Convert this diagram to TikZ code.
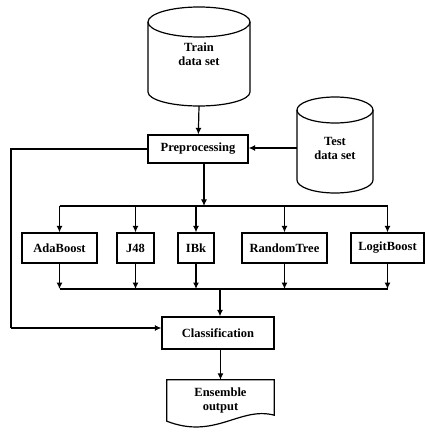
\documentclass[tikz,border=0pt]{standalone}
\usepackage{fontspec}
\setmainfont{Liberation Serif}
\usepackage{tikz}
\usetikzlibrary{arrows.meta,positioning}

\begin{document}
\begin{tikzpicture}[
    x=1pt,y=1pt,
    every node/.style={font=\fontsize{12.5}{14}\selectfont\bfseries,align=center},
    box/.style={draw,line width=1.2pt,minimum height=30pt,inner sep=2pt},
    link/.style={-{Latex[length=6.5pt,width=6pt]},line width=1.2pt},
    wire/.style={line width=1.2pt}
  ]
    \useasboundingbox (0,0) rectangle (437,432);

    % data sources (cylinders drawn round the text nodes)
    \node[minimum width=102pt,minimum height=103pt] (train) at (199,377.5) {Train\\data set};
    \draw[wire] ([yshift=32.5pt]train.center) ellipse[x radius=51pt,y radius=15pt];
    \draw[wire] ([shift={(-51pt,32.5pt)}]train.center) -- ([shift={(-51pt,-37.5pt)}]train.center)
      arc[start angle=180,end angle=360,x radius=51pt,y radius=14pt]
      -- ([shift={(51pt,32.5pt)}]train.center);

    \node[minimum width=76pt,minimum height=90pt] (test) at (335,283.5) {Test\\data set};
    \draw[wire] ([yshift=38.5pt]test.center) ellipse[x radius=38pt,y radius=13pt];
    \draw[wire] ([shift={(-38pt,38.5pt)}]test.center) -- ([shift={(-38pt,-31.5pt)}]test.center)
      arc[start angle=180,end angle=360,x radius=38pt,y radius=13pt]
      -- ([shift={(38pt,38.5pt)}]test.center);

    \node[box,minimum width=100pt,minimum height=28pt] (prep) at (198,283) {Preprocessing};

    % base classifiers
    \node[box,minimum width=75pt] (ada) at (59.5,184) {AdaBoost};
    \node[box,minimum width=37pt] (j48) at (135.5,184) {J48};
    \node[box,minimum width=36pt] (ibk) at (196,184) {IBk};
    \node[box,minimum width=85pt] (rtree) at (284.5,184) {RandomTree};
    \node[box,minimum width=73pt] (logit) at (387.5,184) {LogitBoost};

    \node[box,minimum width=112pt,minimum height=32pt] (cls) at (218,99) {Classification};

    % ensemble output (document shape)
    \node[minimum width=107pt,minimum height=40pt] (ens) at (220.5,32) {Ensemble\\output};
    \draw[wire] ([yshift=-1pt]ens.south west) -- (ens.north west) -- (ens.north east)
      -- ([yshift=5pt]ens.south east)
      .. controls (240,26) and (215,-8) .. ([yshift=-1pt]ens.south west) -- cycle;

    \coordinate (topbus) at (204,226);
    \coordinate (lowbus) at (220,143);
    \coordinate (fb) at (11,104);

    \draw[link] (train.south) -- (prep);
    \draw[link] (test.west |- 0,284) -- (prep.east |- 0,284);
    \draw[link] (prep.south -| topbus) -- (topbus);
    \draw[wire] (topbus -| ada) -- (topbus -| logit);
    \draw[wire] (lowbus -| ada) -- (lowbus -| logit);
    \foreach \m in {ada,j48,ibk,rtree,logit} {
      \draw[link] (topbus -| \m) -- (\m.north);
      \draw[link] (\m.south) -- (lowbus -| \m);
    }
    \draw[link] (lowbus) -- (cls.north -| lowbus);
    \draw[wire] (prep.west) -| (fb);
    \draw[link] (fb) -- (fb -| cls.west);
    \draw[link] (cls.south -| ens) -- (ens.north);
  \end{tikzpicture}
\end{document}
